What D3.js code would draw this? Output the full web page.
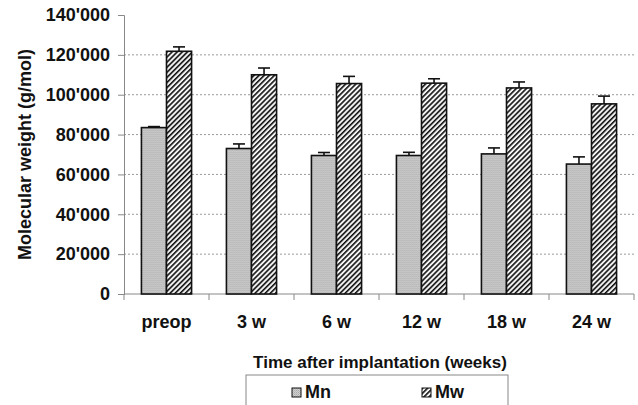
<!DOCTYPE html>
<html>
  <head>
    <script src="https://d3js.org/d3.v7.min.js"></script>
    <style>
      body { margin: 0; background: #fff; }
      text { font-family: "Liberation Sans", Arial, sans-serif; font-weight: bold; fill: #111; }
    </style>
  </head>
  <body>
    <script>

const categories = ["preop", "3 w", "6 w", "12 w", "18 w", "24 w"];
const series = ["Mn", "Mw"];
const mnValues = [83500, 73000, 69500, 69500, 70300, 65200];
const mnErrors = [500, 2300, 1500, 1600, 3000, 3600];
const mwValues = [121800, 110000, 105600, 105800, 103400, 95400];
const mwErrors = [2200, 3400, 3600, 2200, 3000, 3900];
const yTicks = [0, 20000, 40000, 60000, 80000, 100000, 120000, 140000];

const width = 638;
const height = 405;
const margin = { top: 15, right: 4, bottom: 111, left: 124 };

const rows = categories.map((c, i) => ({
  cat: c,
  Mn: { v: mnValues[i], e: mnErrors[i] },
  Mw: { v: mwValues[i], e: mwErrors[i] }
}));

const svg = d3.select("body").append("svg")
    .attr("width", width)
    .attr("height", height);

const defs = svg.append("defs");

// fine dotted grey for Mn
const pMn = defs.append("pattern")
    .attr("id", "dots")
    .attr("patternUnits", "userSpaceOnUse")
    .attr("width", 2).attr("height", 2);
pMn.append("rect").attr("width", 2).attr("height", 2).attr("fill", "#d2d2d2");
pMn.append("rect").attr("width", 1).attr("height", 1).attr("fill", "#a8a8a8");
pMn.append("rect").attr("x", 1).attr("y", 1).attr("width", 1).attr("height", 1).attr("fill", "#b8b8b8");

// diagonal hatch for Mw
const pMw = defs.append("pattern")
    .attr("id", "hatch")
    .attr("patternUnits", "userSpaceOnUse")
    .attr("width", 3.6).attr("height", 3.6)
    .attr("patternTransform", "rotate(45)");
pMw.append("rect").attr("width", 3.6).attr("height", 3.6).attr("fill", "#f4f4f4");
pMw.append("line").attr("x1", 0).attr("y1", 0).attr("x2", 0).attr("y2", 3.6)
    .attr("stroke", "#111").attr("stroke-width", 3.2);

const fills = { Mn: "url(#dots)", Mw: "url(#hatch)" };

const x = d3.scaleBand()
    .domain(categories)
    .range([margin.left, width - margin.right])
    .paddingInner(0.41)
    .paddingOuter(0.205);

const xs = d3.scaleBand()
    .domain(series)
    .range([0, x.bandwidth()]);

const y = d3.scaleLinear()
    .domain([0, 140000])
    .range([height - margin.bottom, margin.top]);

// grid lines
svg.append("g")
  .selectAll("line")
  .data(yTicks.filter(t => t > 0 && t < 140000))
  .join("line")
    .attr("x1", margin.left).attr("x2", width - margin.right)
    .attr("y1", d => y(d)).attr("y2", d => y(d))
    .attr("stroke", "#9a9a9a")
    .attr("stroke-width", 1)
    .attr("stroke-dasharray", "2,2");

// y axis
const yAxis = svg.append("g")
    .attr("transform", `translate(${margin.left},0)`)
    .call(d3.axisLeft(y).tickValues(yTicks).tickSize(6).tickPadding(8)
      .tickFormat(d => d === 0 ? "0" : d3.format(",")(d).replace(/,/g, "'")));
yAxis.select(".domain").attr("stroke", "#888");
yAxis.selectAll(".tick line").attr("stroke", "#888");
yAxis.selectAll("text").attr("font-size", 18).attr("fill", "#111")
    .attr("font-family", "Liberation Sans, Arial, sans-serif").attr("font-weight", "bold");

// x axis: ticks at category boundaries
const bounds = categories.map(c => x(c) - x.step() * x.paddingInner() / 2)
    .concat([width - margin.right]);
const xAxisG = svg.append("g");
xAxisG.append("line")
    .attr("x1", margin.left).attr("x2", width - margin.right)
    .attr("y1", y(0)).attr("y2", y(0))
    .attr("stroke", "#888");
xAxisG.selectAll(".tk")
  .data(bounds)
  .join("line")
    .attr("x1", d => d).attr("x2", d => d)
    .attr("y1", y(0)).attr("y2", y(0) + 6)
    .attr("stroke", "#888");
xAxisG.selectAll("text")
  .data(categories)
  .join("text")
    .attr("x", d => x(d) + x.bandwidth() / 2)
    .attr("y", y(0) + 34)
    .attr("text-anchor", "middle")
    .attr("font-size", 18)
    .text(d => d);

// bars
const group = svg.append("g")
  .selectAll("g")
  .data(rows)
  .join("g")
    .attr("transform", d => `translate(${x(d.cat)},0)`);

series.forEach(s => {
  group.append("line")
      .attr("x1", xs(s) + xs.bandwidth() / 2).attr("x2", xs(s) + xs.bandwidth() / 2)
      .attr("y1", d => y(d[s].v)).attr("y2", d => y(d[s].v + d[s].e))
      .attr("stroke", "#111").attr("stroke-width", 1.6);
  group.append("line")
      .attr("x1", xs(s) + xs.bandwidth() / 2 - 6).attr("x2", xs(s) + xs.bandwidth() / 2 + 6)
      .attr("y1", d => y(d[s].v + d[s].e)).attr("y2", d => y(d[s].v + d[s].e))
      .attr("stroke", "#111").attr("stroke-width", 1.6);
  group.append("rect")
      .attr("x", xs(s))
      .attr("y", d => y(d[s].v))
      .attr("width", xs.bandwidth())
      .attr("height", d => y(0) - y(d[s].v))
      .attr("fill", fills[s])
      .attr("stroke", "#111")
      .attr("stroke-width", 1.6);
});

// axis titles
svg.append("text")
    .attr("transform", `translate(31,${(y(0) + y(140000)) / 2}) rotate(-90)`)
    .attr("text-anchor", "middle")
    .attr("font-size", 18)
    .text("Molecular weight (g/mol)");

svg.append("text")
    .attr("x", 380)
    .attr("y", 368)
    .attr("text-anchor", "middle")
    .attr("font-size", 17)
    .text("Time after implantation (weeks)");

// legend
const legend = svg.append("g");
legend.append("rect")
    .attr("x", 246).attr("y", 375)
    .attr("width", 262).attr("height", 40)
    .attr("fill", "none")
    .attr("stroke", "#888");
const lx = d3.scalePoint().domain(series).range([292, 422]);
series.forEach(s => {
  legend.append("rect")
      .attr("x", lx(s)).attr("y", 388)
      .attr("width", 9).attr("height", 9)
      .attr("fill", fills[s])
      .attr("stroke", "#111");
  legend.append("text")
      .attr("x", lx(s) + 13).attr("y", 398)
      .attr("font-size", 18)
      .text(s);
});

    </script>
  </body>
</html>
